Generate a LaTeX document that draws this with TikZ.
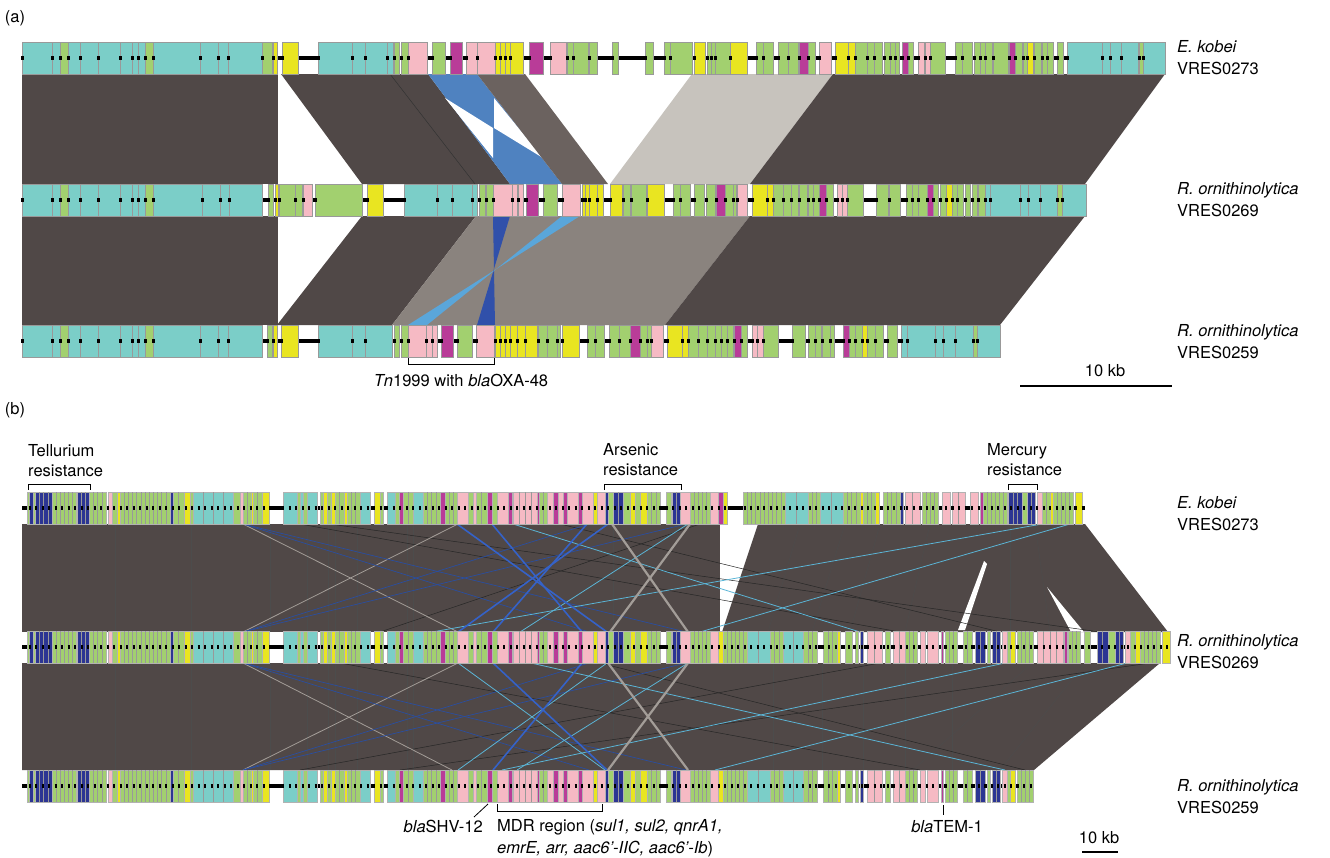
\documentclass[tikz,border=0pt]{standalone}
\usepackage{fontspec}
\setmainfont{TeX Gyre Heros}
\usetikzlibrary{positioning}

\definecolor{tl}{HTML}{7BCEC8}
\definecolor{gr}{HTML}{A2D06F}
\definecolor{ye}{HTML}{E9E521}
\definecolor{pk}{HTML}{F6BAC4}
\definecolor{mg}{HTML}{B93C98}
\definecolor{nv}{HTML}{2C3593}
\definecolor{bandD}{HTML}{504847}
\definecolor{bandM}{HTML}{6B625F}
\definecolor{bandG}{HTML}{8A837E}
\definecolor{bandL}{HTML}{C7C3BD}
\definecolor{hitB}{HTML}{4F82C0}
\definecolor{hitN}{HTML}{3050AA}
\definecolor{hitC}{HTML}{5AA6DA}
\definecolor{lnB}{HTML}{3562C8}
\definecolor{lnC}{HTML}{5BB5D6}
\definecolor{lnG}{HTML}{A39D98}

% stripe step per gene colour (panel b)
\def\sttl{10}\def\stgr{4}\def\stye{5}\def\stpk{6}\def\stmg{8}\def\stnv{4}

% panel (a) gene blocks: start/end/colour
\def\geneAone{22/52/tl,52/60/tl,60/68/gr,68/80/tl,80/98/tl,98/120/tl,120/132/tl,132/138/tl,138/145/tl,145/153/gr,153/200/tl,200/218/tl,218/228/tl,228/262/tl,262/272/gr,273/277/ye,282/298/ye,318/352/tl,352/365/tl,365/387/tl,387/393/tl,394/399/gr,401/408/gr,408/427/pk,432/445/gr,450/462/mg,466/477/pk,477/495/pk,495/500/ye,500/505/ye,505/510/ye,510/523/ye,529/543/mg,550/566/pk,567/573/gr,573/588/gr,589/597/gr,612/618/gr,645/653/gr,664/670/gr,670/692/gr,694/705/ye,707/711/gr,711/715/gr,715/730/gr,730/747/ye,756/763/gr,763/773/gr,778/788/gr,788/798/gr,799/808/mg,808/815/gr,819/831/pk,835/848/ye,848/855/ye,855/867/gr,867/874/gr,874/882/gr,884/890/gr,890/895/gr,895/899/gr,902/908/mg,908/913/gr,918/924/pk,925/930/pk,930/945/gr,955/962/gr,962/972/gr,974/980/gr,980/985/gr,985/992/gr,993/1008/gr,1009/1015/mg,1015/1022/gr,1023/1027/gr,1027/1033/ye,1034/1041/gr,1042/1047/gr,1047/1053/gr,1057/1063/gr,1067/1102/tl,1102/1110/tl,1110/1121/tl,1121/1138/tl,1139/1143/gr,1143/1165/tl}
\def\geneAtwo{22/52/tl,52/60/tl,60/68/gr,68/80/tl,80/98/tl,98/120/tl,120/132/tl,132/138/tl,138/145/tl,145/153/gr,153/202/tl,202/220/tl,220/229/tl,229/262/tl,268/273/gr,275/278/ye,279/295/gr,295/302/gr,303/312/pk,315/362/gr,367/383/ye,404/437/tl,437/452/tl,452/472/tl,472/477/tl,479/485/gr,486/493/gr,493/512/pk,512/517/pk,518/523/pk,526/538/mg,543/557/gr,562/580/pk,582/585/ye,585/589/ye,589/597/ye,597/603/ye,610/622/ye,623/630/gr,631/646/gr,647/664/ye,673/680/gr,680/690/gr,694/704/gr,706/715/gr,716/725/mg,725/733/gr,733/736/gr,737/747/pk,752/767/ye,767/773/ye,773/783/gr,783/791/gr,791/798/gr,799/807/gr,808/813/gr,813/819/gr,819/826/mg,826/833/gr,837/842/pk,842/847/pk,847/863/gr,876/888/gr,889/900/gr,906/912/gr,912/918/gr,918/927/gr,927/933/mg,933/938/gr,940/946/gr,946/952/ye,952/957/gr,957/963/gr,965/970/gr,972/977/gr,978/985/gr,985/990/tl,990/1020/tl,1020/1028/tl,1028/1040/tl,1040/1057/tl,1057/1062/gr,1062/1086/tl}
\def\geneAthree{22/52/tl,52/60/tl,60/68/gr,68/80/tl,80/98/tl,98/120/tl,120/132/tl,132/138/tl,138/145/tl,145/153/gr,153/200/tl,200/218/tl,218/228/tl,228/262/tl,267/272/gr,273/277/ye,281/298/ye,318/352/tl,352/365/tl,365/392/tl,394/399/gr,401/408/gr,408/426/pk,426/432/pk,432/437/pk,441/453/mg,457/472/gr,476/494/pk,495/500/ye,500/505/ye,505/510/ye,510/517/ye,517/525/ye,525/537/ye,538/547/gr,547/557/gr,557/560/gr,562/579/ye,587/595/gr,595/604/gr,609/619/gr,619/630/gr,630/640/mg,640/647/gr,647/651/gr,651/663/pk,667/682/ye,682/688/ye,688/698/gr,698/707/gr,707/715/gr,715/721/gr,721/727/gr,727/733/gr,734/741/mg,741/747/gr,752/757/pk,757/763/pk,763/778/gr,792/805/gr,808/815/gr,815/821/gr,822/830/gr,830/834/gr,843/849/mg,849/855/gr,855/862/gr,862/867/ye,867/875/gr,875/883/gr,887/897/gr,901/907/tl,907/935/tl,935/943/tl,943/955/tl,955/973/tl,973/977/gr,977/1000/tl}

% panel (b) gene blocks
\def\geneBleft{27/29/gr,29/33/nv,33/35/gr,35/52/nv,52/76/gr,77/89/nv,89/106/gr,108/112/pk,112/117/gr,117/120/ye,120/170/gr,170/173/nv,173/184/gr,184/190/ye,190/193/gr,193/233/tl,233/240/gr,240/243/pk,243/251/gr,251/253/ye,253/262/gr,262/269/ye,283/297/tl,297/300/gr,300/303/tl,303/307/gr,307/317/tl,320/323/gr,323/327/ye,327/331/gr,331/335/ye,335/344/gr,344/347/ye,347/360/gr,360/370/tl,374/380/ye,380/383/gr,387/395/tl,395/399/gr,399/403/mg,403/413/gr,413/423/tl,423/440/gr,440/445/mg,445/457/gr,457/468/pk,468/473/gr,473/476/pk,476/487/gr,487/492/mg,492/497/gr,497/508/pk,508/512/mg,513/537/pk,537/539/mg,539/547/gr,547/553/pk,553/558/mg,558/563/pk,563/567/mg,567/578/pk,578/582/mg,582/593/pk,593/597/ye,597/605/pk,605/608/nv,608/613/gr,613/623/nv,623/630/gr,630/635/ye,635/640/gr,640/647/ye,647/660/gr,666/671/gr,672/680/nv,680/690/pk,690/710/gr,710/718/pk}
\def\geneBoneR{718/723/mg,723/727/ye,743/785/gr,785/808/tl,808/820/gr,820/843/tl,843/860/gr,860/863/ye,863/875/gr,875/879/ye,883/900/gr,900/903/nv,905/920/pk,922/938/gr,942/950/pk,952/965/pk,970/978/pk,980/983/mg,983/1007/gr,1008/1022/nv,1022/1027/gr,1027/1035/nv,1037/1042/pk,1042/1050/gr,1050/1053/ye,1053/1073/gr,1075/1082/ye}
\def\geneBmid{718/723/ye,723/747/gr,747/770/tl,770/783/gr,783/803/tl,803/817/gr,823/837/gr,837/840/ye,845/852/gr,855/858/gr,860/863/nv,867/882/pk,885/890/gr,893/905/pk,905/917/gr,920/925/pk,927/938/pk,941/943/mg,945/957/gr,963/972/gr,975/985/nv,987/990/gr,992/1000/nv,1002/1007/pk,1007/1010/gr,1010/1015/ye,1017/1033/gr}
\def\geneBtail{1037/1063/pk,1064/1067/mg,1068/1080/gr,1084/1090/gr,1097/1108/nv,1108/1115/gr,1115/1123/nv,1125/1130/pk,1130/1135/gr,1135/1140/ye,1140/1160/gr,1162/1170/ye}

% draw a gene track of panel (a): list, top y
\newcommand\trackA[2]{%
  \foreach \a/\b/\c in #1 {
    \filldraw[genea,fill=\c] (\a,#2) rectangle (\b,#2+32);
    \fill (\a,#2+16) ++(-1.5,-1.8) rectangle ++(3,3.6);
  }}
% draw a gene track of panel (b): list, top y
\newcommand\trackB[2]{%
  \foreach \a/\b/\c in #1 {
    \filldraw[geneb,fill=\c] (\a,#2) rectangle (\b,#2+32);
    \edef\stp{\csname st\c\endcsname}
    \pgfmathtruncatemacro\nst{(\b-\a)/\stp}
    \ifnum\nst>1
      \foreach \k in {2,...,\nst} {\draw[stripe] ({\a+(\k-1)*(\b-\a)/\nst},#2) -- ++(0,32);}
    \fi
  }}

\begin{document}
\begin{tikzpicture}[
    x=1pt,y=-1pt,
    font=\fontsize{16.5}{22}\selectfont,
    genea/.style={draw=black!40,line width=0.5pt},
    geneb/.style={draw=black!30,line width=0.3pt},
    stripe/.style={draw=black!40,line width=0.35pt},
    backbone/.style={line width=4pt},
    ticks/.style={line width=3.5pt,dash pattern=on 2pt off 4.5pt},
    vline/.style={draw=black!70,line width=0.4pt},
    hitgray/.style={draw=lnG,line width=0.8pt},
    hitgraythick/.style={draw=lnG,line width=2.2pt},
    hitblue/.style={draw=lnB,line width=1.6pt},
    hitbluethin/.style={draw=lnB!80!black,line width=0.7pt},
    hitcyan/.style={draw=lnC,line width=0.8pt},
    hitdark/.style={draw=black!85,line width=0.5pt},
    lab/.style={anchor=west,align=left,inner sep=0pt},
    bracket/.style={line width=0.9pt}
  ]
  \useasboundingbox (0,0) rectangle (1330,857);

  %% ---------- panel (a) ----------
  \node (pa) at (15,18) {(a)};

  % comparisons VRES0273 - VRES0269
  \fill[bandD] (22,74) -- (278,74) -- (278,184) -- (22,184) -- cycle;
  \fill[bandD] (281,74) -- (428,74) -- (510,184) -- (362,184) -- cycle;
  \draw[black!80,line width=0.5pt] (390,74) -- (475,184);
  \fill[hitB] (428,74) -- (477,74) -- (562,184) -- (510,184) -- cycle;
  \fill[white] (445,98) -- (493,128) -- (493,158) -- cycle;
  \fill[white] (494,98) -- (494,128) -- (543,158) -- cycle;
  \fill[bandM] (477,74) -- (525,74) -- (608,184) -- (562,184) -- cycle;
  \fill[bandL] (692,74) -- (833,74) -- (750,184) -- (610,184) -- cycle;
  \fill[bandD] (833,74) -- (1165,74) -- (1085,184) -- (750,184) -- cycle;

  % comparisons VRES0269 - VRES0259
  \fill[bandD] (22,216) -- (278,216) -- (278,325) -- (22,325) -- cycle;
  \fill[bandD] (362,216) -- (476,216) -- (392,325) -- (277,325) -- cycle;
  \fill[bandG] (476,216) -- (750,216) -- (665,325) -- (392,325) -- cycle;
  \fill[hitN] (493,216) -- (510,216) -- (477,325) -- (495,325) -- cycle;
  \fill[hitC] (562,216) -- (580,216) -- (408,325) -- (427,325) -- cycle;
  \fill[bandD] (750,216) -- (1085,216) -- (1000,325) -- (665,325) -- cycle;

  % gene tracks
  \draw[backbone] (22,58) -- (1165,58);
  \trackA{\geneAone}{42}
  \draw[backbone] (22,200) -- (1086,200);
  \trackA{\geneAtwo}{184}
  \draw[backbone] (22,341) -- (1000,341);
  \trackA{\geneAthree}{325}

  \node[lab] (ekA) at (1177,58) {\textit{E. kobei}\\VRES0273};
  \node[lab] (roA) at (1177,200) {\textit{R. ornithinolytica}\\VRES0269};
  \node[lab] (rtA) at (1177,342) {\textit{R. ornithinolytica}\\VRES0259};

  \draw[bracket] (408,358) -- (408,364) -- (494,364) -- (494,358);
  \node (tn) at (461,380) {\textit{Tn}1999 with \textit{bla}OXA-48};

  \draw[line width=2.5pt] (1020,386) -- (1172,386);
  \node (sbA) at (1105,371) {10 kb};

  %% ---------- panel (b) ----------
  \node (pb) at (15,410) {(b)};

  % comparisons VRES0273 - VRES0269
  \fill[bandD] (22,524) -- (720,524) -- (720,632) -- (22,632) -- cycle;
  \fill[bandD] (758,524) -- (1085,524) -- (1168,632) -- (722,632) -- cycle;
  \fill[white] (984,561) -- (987,564) -- (965,630) -- (958,630) -- cycle;
  \fill[white] (1047,587) -- (1084,632) -- (1071,632) -- cycle;
  % comparisons VRES0269 - VRES0259
  \fill[bandD] (22,663) -- (1160,663) -- (1034,770) -- (22,770) -- cycle;

  \foreach \x in {115,191,270,307,328,335,357,407,413,613} {
    \draw[vline] (\x,524) -- (\x,632);
    \draw[vline] (\x,663) -- (\x,770);
  }
  \foreach \t/\b in {800/768,845/812,880/850,930/905,1010/1010,1035/1050}
    \draw[vline] (\t,524) -- (\b,632);
  \foreach \t/\b in {773/773,822/822,863/863,905/905,952/952,1032/913,1085/1000}
    \draw[vline] (\t,663) -- (\b,770);

  % matches between distant positions
  \foreach \t/\b in {300/900,330/1100,560/1000,700/380}
    \draw[hitdark] (\t,524) -- (\b,632);
  \foreach \t/\b in {340/920,1150/400,600/1025,880/300}
    \draw[hitdark] (\t,663) -- (\b,770);
  \foreach \t/\b in {243/458,458/243}
    \draw[hitgray] (\t,524) -- (\b,632);
  \foreach \t/\b in {243/452,458/243}
    \draw[hitgray] (\t,663) -- (\b,770);
  \foreach \t/\b in {243/589,243/686,589/243,686/243} {
    \draw[hitbluethin] (\t,524) -- (\b,632);
    \draw[hitbluethin] (\t,663) -- (\b,770);
  }
  \foreach \t/\b in {513/860,688/520,1042/432,1070/700}
    \draw[hitcyan] (\t,524) -- (\b,632);
  \foreach \t/\b in {688/517,1005/502,531/1005,1127/715,458/605,607/458}
    \draw[hitcyan] (\t,663) -- (\b,770);
  \foreach \t/\b in {492/582,587/493,457/607,608/458}
    \draw[hitblue] (\t,524) -- (\b,632);
  \foreach \t/\b in {493/607,582/493}
    \draw[hitblue] (\t,663) -- (\b,770);
  \draw[hitgraythick] (612,524) -- (688,632);
  \draw[hitgraythick] (690,524) -- (610,632);
  \draw[hitgraythick] (608,663) -- (688,770);
  \draw[hitgraythick] (688,663) -- (608,770);

  % gene tracks
  \draw[backbone] (22,508) -- (1085,508);
  \trackB{\geneBleft}{492}
  \trackB{\geneBoneR}{492}
  \draw[ticks] (22,508) -- (1085,508);

  \draw[backbone] (22,647) -- (1170,647);
  \trackB{\geneBleft}{631}
  \trackB{\geneBmid}{631}
  \trackB{\geneBtail}{631}
  \draw[ticks] (22,647) -- (1170,647);

  \draw[backbone] (22,786) -- (1034,786);
  \trackB{\geneBleft}{770}
  \trackB{\geneBmid}{770}
  \draw[ticks] (22,786) -- (1034,786);

  \node[lab] (ekB) at (1177,514) {\textit{E. kobei}\\VRES0273};
  \node[lab] (roB) at (1177,652) {\textit{R. ornithinolytica}\\VRES0269};
  \node[lab] (rtB) at (1177,797) {\textit{R. ornithinolytica}\\VRES0259};

  % regions
  \node[lab,anchor=north west,font=\fontsize{16.5}{20}\selectfont] (tell) at (28,444) {Tellurium\\resistance};
  \draw[bracket] (28,490) -- (28,484) -- (90,484) -- (90,490);
  \node[lab,anchor=north west,font=\fontsize{16.5}{20}\selectfont] (arse) at (603,443) {Arsenic\\resistance};
  \draw[bracket] (604,490) -- (604,484) -- (681,484) -- (681,490);
  \node[lab,anchor=north west,font=\fontsize{16.5}{20}\selectfont] (merc) at (987,443) {Mercury\\resistance};
  \draw[bracket] (1008,490) -- (1008,484) -- (1037,484) -- (1037,490);

  \node[anchor=east,inner sep=0pt] (shv) at (483,826) {\textit{bla}SHV-12};
  \draw[line width=0.8pt] (488,804) -- (474,817);
  \draw[bracket] (497,804) -- (497,811) -- (602,811) -- (602,804);
  \node[lab,anchor=north west] (mdr) at (497,819) {MDR region (\textit{sul1, sul2, qnrA1,}\\\textit{emrE, arr, aac6'-IIC, aac6'-Ib})};
  \draw[line width=0.8pt] (943,805) -- (943,815);
  \node (tem) at (947,827) {\textit{bla}TEM-1};

  \draw[line width=2.5pt] (1082,852) -- (1118,852);
  \node (sbB) at (1099,838) {10 kb};
\end{tikzpicture}
\end{document}
